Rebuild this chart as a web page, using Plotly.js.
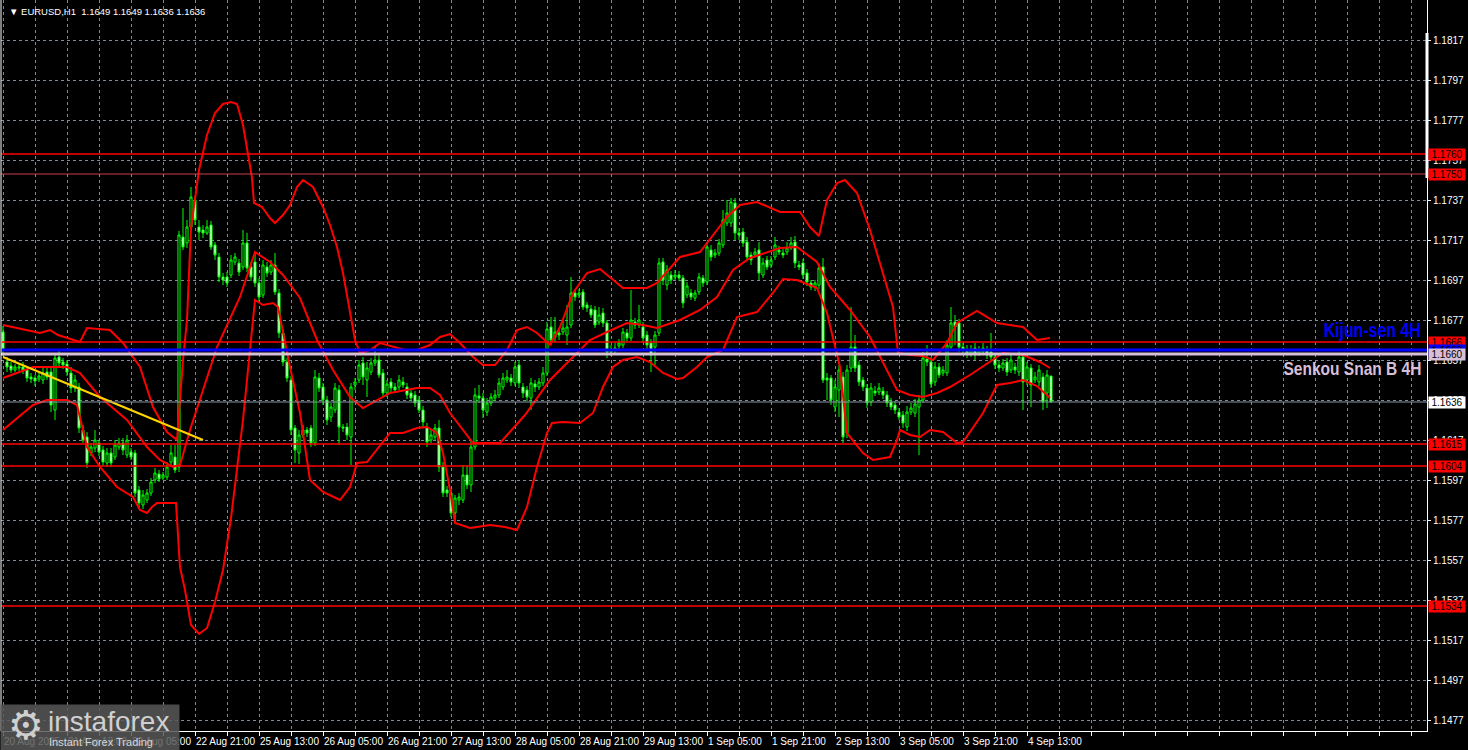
<!DOCTYPE html>
<html><head><meta charset="utf-8">
<script src="https://cdn.plot.ly/plotly-3.0.1.min.js"></script>
<style>html,body{margin:0;padding:0;background:#000;overflow:hidden}#chart{width:1468px;height:750px}</style>
</head><body><div id="chart"></div>
<script>
// ---------- DATA (EURUSD H1) ----------
const barOpen = [
1.16710,1.16560,1.16540,1.16520,1.16530,1.16535,1.16520,1.16485,1.16480,1.16475,
1.16470,1.16510,1.16510,1.16320,1.16585,1.16560,1.16550,1.16505,1.16430,1.16435,
1.16220,1.16185,1.16105,1.16130,1.16155,1.16120,1.16055,1.16105,1.16085,1.16135,
1.16155,1.16095,1.16110,1.16105,1.15920,1.15845,1.15870,1.15905,1.15970,1.16000,
1.15980,1.15985,1.16060,1.16085,1.16035,1.17185,1.17155,1.17235,1.17370,1.17235,
1.17220,1.17205,1.17245,1.17145,1.17085,1.16985,1.16985,1.16995,1.17060,1.17055,
1.17035,1.17155,1.17035,1.17060,1.16955,1.16895,1.17035,1.17010,1.17045,1.16905,
1.16705,1.16560,1.16470,1.16230,1.16105,1.16195,1.16220,1.16230,1.16155,1.16480,
1.16435,1.16370,1.16285,1.16320,1.16420,1.16235,1.16235,1.16185,1.16445,1.16470,
1.16555,1.16470,1.16510,1.16555,1.16570,1.16505,1.16405,1.16460,1.16435,1.16435,
1.16460,1.16435,1.16405,1.16395,1.16370,1.16320,1.16235,1.16170,1.16185,1.16230,
1.16035,1.15920,1.15905,1.15805,1.15870,1.15870,1.15995,1.15945,1.16135,1.16390,
1.16380,1.16310,1.16355,1.16380,1.16395,1.16435,1.16470,1.16480,1.16455,1.16545,
1.16435,1.16420,1.16380,1.16450,1.16435,1.16455,1.16505,1.16735,1.16685,1.16705,
1.16710,1.16695,1.16745,1.16905,1.16895,1.16910,1.16845,1.16825,1.16820,1.16760,
1.16805,1.16755,1.16610,1.16620,1.16640,1.16645,1.16705,1.16680,1.16760,1.16745,
1.16735,1.16695,1.16655,1.16635,1.16705,1.17060,1.16945,1.16995,1.16985,1.16995,
1.16980,1.16895,1.16905,1.16880,1.16910,1.16980,1.16960,1.17120,1.17095,1.17105,
1.17145,1.17255,1.17255,1.17355,1.17205,1.17210,1.17160,1.17095,1.17095,1.17120,
1.16995,1.17070,1.17045,1.17085,1.17120,1.17105,1.17110,1.17130,1.17160,1.17045,
1.17055,1.17005,1.16955,1.16935,1.16945,1.17035,1.16480,1.16480,1.16335,1.16420,
1.16485,1.16205,1.16530,1.16635,1.16545,1.16470,1.16430,1.16360,1.16415,1.16410,
1.16415,1.16395,1.16360,1.16345,1.16310,1.16295,1.16235,1.16310,1.16305,1.16335,
1.16370,1.16575,1.16560,1.16460,1.16535,1.16505,1.16505,1.16635,1.16760,1.16755,
1.16635,1.16620,1.16605,1.16630,1.16605,1.16610,1.16620,1.16610,1.16585,1.16545,
1.16530,1.16560,1.16520,1.16535,1.16510,1.16585,1.16470,1.16530,1.16470,1.16460,
1.16485,1.16405,1.16490];
const barHigh = [
1.16740,1.16585,1.16560,1.16550,1.16555,1.16560,1.16540,1.16505,1.16495,1.16510,
1.16530,1.16535,1.16530,1.16595,1.16620,1.16580,1.16570,1.16535,1.16495,1.16455,
1.16245,1.16210,1.16155,1.16220,1.16170,1.16140,1.16130,1.16130,1.16170,1.16180,
1.16180,1.16195,1.16130,1.16120,1.15940,1.15920,1.15925,1.15980,1.16030,1.16020,
1.16010,1.16060,1.16145,1.16145,1.17215,1.17330,1.17270,1.17435,1.17390,1.17270,
1.17245,1.17270,1.17265,1.17160,1.17105,1.17005,1.17010,1.17095,1.17105,1.17075,
1.17220,1.17205,1.17060,1.17105,1.16980,1.17070,1.17060,1.17070,1.17105,1.16925,
1.16725,1.16580,1.16490,1.16245,1.16220,1.16245,1.16235,1.16245,1.16520,1.16505,
1.16455,1.16390,1.16355,1.16455,1.16445,1.16250,1.16255,1.16455,1.16480,1.16570,
1.16585,1.16560,1.16580,1.16635,1.16595,1.16525,1.16470,1.16480,1.16455,1.16495,
1.16485,1.16455,1.16425,1.16415,1.16390,1.16340,1.16255,1.16220,1.16250,1.16270,
1.16060,1.15940,1.15925,1.15895,1.15905,1.16045,1.16045,1.16170,1.16430,1.16445,
1.16405,1.16380,1.16405,1.16420,1.16480,1.16505,1.16520,1.16500,1.16560,1.16570,
1.16455,1.16440,1.16480,1.16470,1.16480,1.16535,1.16760,1.16785,1.16785,1.16720,
1.16770,1.16845,1.16985,1.16925,1.16925,1.16925,1.16860,1.16845,1.16840,1.16835,
1.16830,1.16770,1.16645,1.16655,1.16675,1.16730,1.16725,1.16920,1.16780,1.16845,
1.16760,1.16715,1.16675,1.16715,1.17080,1.17080,1.17045,1.17015,1.17020,1.17015,
1.16995,1.16960,1.16925,1.16920,1.17005,1.16995,1.17160,1.17145,1.17125,1.17175,
1.17320,1.17370,1.17380,1.17380,1.17230,1.17230,1.17185,1.17110,1.17130,1.17160,
1.17080,1.17090,1.17090,1.17185,1.17140,1.17125,1.17160,1.17185,1.17190,1.17065,
1.17075,1.17025,1.16970,1.16970,1.17050,1.17080,1.16505,1.16495,1.16470,1.16545,
1.16510,1.16545,1.16835,1.16695,1.16565,1.16485,1.16450,1.16455,1.16440,1.16455,
1.16435,1.16415,1.16380,1.16365,1.16330,1.16315,1.16340,1.16355,1.16375,1.16395,
1.16610,1.16645,1.16585,1.16560,1.16555,1.16540,1.16670,1.16835,1.16795,1.16775,
1.16655,1.16645,1.16645,1.16655,1.16640,1.16655,1.16640,1.16705,1.16605,1.16565,
1.16575,1.16580,1.16595,1.16555,1.16620,1.16605,1.16560,1.16550,1.16510,1.16545,
1.16505,1.16520,1.16490];
const barLow = [
1.16590,1.16510,1.16505,1.16510,1.16515,1.16500,1.16460,1.16455,1.16440,1.16460,
1.16450,1.16470,1.16310,1.16270,1.16540,1.16525,1.16490,1.16405,1.16410,1.16205,
1.16155,1.16030,1.16090,1.16110,1.16090,1.16040,1.16035,1.16035,1.16070,1.16120,
1.16095,1.16080,1.16070,1.15885,1.15825,1.15825,1.15855,1.15890,1.15955,1.15960,
1.15970,1.15970,1.16045,1.16005,1.16010,1.17120,1.17130,1.17220,1.17245,1.17170,
1.17180,1.17195,1.17120,1.17070,1.16960,1.16945,1.16935,1.16980,1.17045,1.16990,
1.17020,1.17010,1.16965,1.16935,1.16865,1.16880,1.16985,1.16995,1.16895,1.16680,
1.16540,1.16460,1.16195,1.16055,1.16050,1.16180,1.16185,1.16135,1.16140,1.16410,
1.16345,1.16245,1.16260,1.16305,1.16145,1.16210,1.16170,1.16045,1.16420,1.16455,
1.16445,1.16385,1.16495,1.16540,1.16480,1.16385,1.16385,1.16410,1.16405,1.16420,
1.16430,1.16375,1.16365,1.16335,1.16305,1.16235,1.16135,1.16155,1.16170,1.16010,
1.15885,1.15885,1.15785,1.15760,1.15845,1.15855,1.15925,1.15910,1.16120,1.16355,
1.16280,1.16290,1.16340,1.16365,1.16380,1.16420,1.16455,1.16440,1.16440,1.16430,
1.16380,1.16365,1.16320,1.16410,1.16420,1.16440,1.16490,1.16645,1.16660,1.16670,
1.16695,1.16645,1.16730,1.16865,1.16880,1.16820,1.16810,1.16780,1.16730,1.16745,
1.16735,1.16580,1.16590,1.16600,1.16620,1.16630,1.16660,1.16665,1.16725,1.16730,
1.16660,1.16620,1.16510,1.16545,1.16690,1.16945,1.16920,1.16950,1.16970,1.16965,
1.16830,1.16880,1.16870,1.16865,1.16895,1.16935,1.16945,1.17065,1.17080,1.17090,
1.17130,1.17240,1.17235,1.17170,1.17170,1.17135,1.17065,1.17045,1.17080,1.16970,
1.16980,1.17020,1.17030,1.17070,1.17095,1.17080,1.17095,1.17120,1.17030,1.17020,
1.16975,1.16940,1.16920,1.16915,1.16925,1.16455,1.16370,1.16345,1.16310,1.16285,
1.16155,1.16180,1.16510,1.16510,1.16440,1.16415,1.16330,1.16340,1.16390,1.16395,
1.16375,1.16335,1.16320,1.16300,1.16270,1.16230,1.16215,1.16295,1.16285,1.16095,
1.16355,1.16540,1.16430,1.16440,1.16480,1.16490,1.16490,1.16620,1.16645,1.16610,
1.16595,1.16580,1.16585,1.16570,1.16590,1.16595,1.16575,1.16570,1.16525,1.16510,
1.16515,1.16490,1.16505,1.16500,1.16490,1.16320,1.16445,1.16335,1.16455,1.16440,
1.16320,1.16330,1.16360];
const barClose = [
1.16620,1.16535,1.16520,1.16535,1.16535,1.16520,1.16480,1.16475,1.16465,1.16490,
1.16505,1.16485,1.16345,1.16580,1.16555,1.16545,1.16510,1.16430,1.16470,1.16230,
1.16170,1.16055,1.16135,1.16170,1.16110,1.16060,1.16105,1.16055,1.16145,1.16155,
1.16120,1.16170,1.16085,1.15905,1.15855,1.15895,1.15905,1.15960,1.16005,1.15975,
1.15995,1.16035,1.16105,1.16020,1.17195,1.17135,1.17235,1.17385,1.17270,1.17210,
1.17205,1.17235,1.17135,1.17095,1.16985,1.16970,1.16955,1.17070,1.17085,1.17010,
1.17155,1.17030,1.16985,1.16955,1.16885,1.17045,1.17005,1.17045,1.16910,1.16705,
1.16560,1.16480,1.16220,1.16120,1.16195,1.16220,1.16205,1.16155,1.16485,1.16430,
1.16370,1.16270,1.16335,1.16430,1.16235,1.16230,1.16195,1.16435,1.16460,1.16545,
1.16485,1.16530,1.16555,1.16570,1.16495,1.16405,1.16450,1.16430,1.16420,1.16470,
1.16445,1.16395,1.16380,1.16355,1.16320,1.16260,1.16160,1.16195,1.16230,1.16035,
1.15905,1.15905,1.15805,1.15880,1.15885,1.15995,1.15945,1.16135,1.16395,1.16380,
1.16320,1.16355,1.16385,1.16395,1.16455,1.16480,1.16485,1.16460,1.16535,1.16455,
1.16405,1.16385,1.16455,1.16435,1.16460,1.16505,1.16725,1.16670,1.16710,1.16695,
1.16730,1.16735,1.16905,1.16885,1.16905,1.16835,1.16830,1.16795,1.16745,1.16795,
1.16755,1.16610,1.16620,1.16630,1.16655,1.16710,1.16680,1.16770,1.16745,1.16770,
1.16680,1.16645,1.16595,1.16695,1.17055,1.16970,1.17020,1.16970,1.16995,1.16980,
1.16855,1.16940,1.16885,1.16905,1.16985,1.16955,1.17135,1.17085,1.17105,1.17155,
1.17270,1.17305,1.17360,1.17205,1.17195,1.17155,1.17085,1.17070,1.17110,1.17005,
1.17055,1.17035,1.17070,1.17145,1.17110,1.17095,1.17130,1.17155,1.17055,1.17035,
1.16995,1.16960,1.16935,1.16955,1.17030,1.16470,1.16470,1.16370,1.16435,1.16520,
1.16185,1.16520,1.16635,1.16530,1.16460,1.16435,1.16355,1.16430,1.16405,1.16430,
1.16395,1.16355,1.16335,1.16320,1.16285,1.16255,1.16310,1.16330,1.16350,1.16370,
1.16580,1.16560,1.16450,1.16535,1.16495,1.16520,1.16645,1.16755,1.16735,1.16635,
1.16620,1.16605,1.16620,1.16595,1.16620,1.16630,1.16595,1.16585,1.16545,1.16530,
1.16555,1.16510,1.16570,1.16520,1.16585,1.16460,1.16535,1.16445,1.16485,1.16520,
1.16360,1.16495,1.16360];

// Bollinger band lines: bar index of each reading and value
const bbUpperBar = [0,9.25,11.75,13.75,19.25,21,26.75,30,34.25,37.5,41,43.5,45,46,47,49,51,53,55,57,58.5,60,61.5,62.25,62.75,64.75,66.75,68,70,71.75,73.5,75,77.5,80,81.75,83.5,85,86.75,88,89.25,91.75,94.25,96.75,100.5,103.5,106.75,109.25,111.75,114.25,117.5,120,123,126,128.5,131,133.5,136.75,139.25,142.5,146,149.25,152.5,155,161,163.5,169.25,174.25,178.5,181,184.25,188.5,194.25,199.25,201.75,204,206,208.5,210.5,213.5,216.75,220,222.5,223.75,226.75,230,232.5,236,238.5,243.5,248.5,255,258.5,261.75];
const bbUpperVal = [1.16745,1.16705,1.16720,1.16695,1.16660,1.16730,1.16720,1.16655,1.16535,1.16335,1.16210,1.16170,1.16570,1.16770,1.17230,1.17520,1.17695,1.17805,1.17850,1.17860,1.17850,1.17745,1.17570,1.17480,1.17355,1.17335,1.17280,1.17255,1.17295,1.17345,1.17435,1.17470,1.17435,1.17335,1.17245,1.17135,1.17005,1.16805,1.16670,1.16605,1.16620,1.16655,1.16640,1.16620,1.16620,1.16645,1.16685,1.16700,1.16655,1.16585,1.16545,1.16545,1.16620,1.16720,1.16735,1.16705,1.16645,1.16735,1.16905,1.17005,1.17025,1.16970,1.16930,1.16930,1.16955,1.17085,1.17110,1.17220,1.17285,1.17345,1.17360,1.17310,1.17310,1.17235,1.17190,1.17370,1.17455,1.17470,1.17405,1.17220,1.17005,1.16835,1.16605,1.16595,1.16590,1.16570,1.16655,1.16755,1.16815,1.16755,1.16735,1.16670,1.16680];
const bbMiddleBar = [0,7.5,16,19.25,24.25,31,36,39.25,42.5,44.25,46.75,49.25,53.5,59.25,63,66.75,70,74.25,78.5,82.5,86.75,90,93.5,96.75,103.5,106.75,109.25,111.75,117.5,124.25,130.5,136.75,142.5,146.75,151,156,160,163.5,169.25,174.25,178.5,182.5,186.75,194.25,198.5,203.5,206.75,211.75,216.75,220,223.5,226.75,230,233.5,236.75,241.75,246.75,250,255,259.25,261.75];
const bbMiddleVal = [1.16480,1.16535,1.16535,1.16505,1.16385,1.16270,1.16135,1.16070,1.16035,1.16045,1.16220,1.16370,1.16635,1.16885,1.17110,1.17060,1.16995,1.16880,1.16670,1.16520,1.16385,1.16330,1.16370,1.16405,1.16430,1.16430,1.16395,1.16305,1.16155,1.16155,1.16295,1.16470,1.16585,1.16670,1.16710,1.16755,1.16745,1.16730,1.16770,1.16820,1.16885,1.17020,1.17080,1.17130,1.17135,1.17060,1.16935,1.16820,1.16685,1.16555,1.16420,1.16395,1.16385,1.16405,1.16435,1.16495,1.16560,1.16605,1.16595,1.16560,1.16530];
const bbLowerBar = [0,7.5,11,16,18.5,21,24.25,28.5,32.5,34.25,36,37.25,38.5,43.25,44.25,45.5,47,49,51,53,55,57,60,61.75,63,65,67.5,68.75,71.75,74.25,76.75,80,84.25,86.75,88.5,91,96.75,100,103.5,106,108.5,110,111.75,113,116.75,121.75,125.5,128.5,131,133.5,136,137.25,140,144.25,147.5,150,152.5,155,158.5,161.75,165,168.5,170,173.5,176,180,181.75,183.5,188.5,192.5,195,198.5,203.5,204.75,206,209.25,211,215,217.5,221.75,223.5,224.25,226.75,229.25,231.75,235,238.5,240,245,248.5,251.75,255,258.5,261.75];
const bbLowerVal = [1.16220,1.16345,1.16370,1.16370,1.16345,1.16135,1.16035,1.15935,1.15885,1.15820,1.15805,1.15835,1.15855,1.15855,1.15535,1.15420,1.15245,1.15200,1.15230,1.15360,1.15520,1.15780,1.16270,1.16620,1.16870,1.16845,1.16855,1.16835,1.16535,1.16305,1.15970,1.15910,1.15870,1.15935,1.16055,1.16060,1.16205,1.16205,1.16230,1.16235,1.16205,1.16105,1.15920,1.15755,1.15730,1.15745,1.15735,1.15720,1.15835,1.16035,1.16205,1.16255,1.16260,1.16255,1.16305,1.16435,1.16535,1.16570,1.16585,1.16560,1.16505,1.16475,1.16480,1.16535,1.16585,1.16620,1.16705,1.16785,1.16810,1.16905,1.16975,1.16970,1.16930,1.16870,1.16805,1.16535,1.16205,1.16105,1.16070,1.16085,1.16170,1.16220,1.16195,1.16185,1.16220,1.16210,1.16155,1.16160,1.16305,1.16445,1.16455,1.16470,1.16440,1.16380];

// Trend line (bar index, price)
const trendBar = [0, 50];
const trendVal = [1.16585, 1.16170];

// Horizontal levels
const supportResistance = [1.1760, 1.1750, 1.1666, 1.1615, 1.1604, 1.1534];
const kijunSen4H = 1.1662;
const senkouSpanB4H = 1.1660;
const bidPrice = 1.1636;

// Axis ticks
const xTickBars = [0,16,32,48,64,80,96,112,128,144,160,176,192,208,224,240,256];
const xTickLabels = ["20 Aug 2025","21 Aug 13:00","22 Aug 05:00","22 Aug 21:00","25 Aug 13:00","26 Aug 05:00","26 Aug 21:00","27 Aug 13:00","28 Aug 05:00","28 Aug 21:00","29 Aug 13:00","1 Sep 05:00","1 Sep 21:00","2 Sep 13:00","3 Sep 05:00","3 Sep 21:00","4 Sep 13:00"];
const yTickValues = [1.1477,1.1497,1.1517,1.1537,1.1557,1.1577,1.1597,1.1617,1.1637,1.1657,1.1677,1.1697,1.1717,1.1737,1.1757,1.1777,1.1797,1.1817];
const chartTitle = "\u25BC EURUSD,H1\u00a0\u00a01.1649 1.1649 1.1636 1.1636";
const kijunCaption = "Kijun-sen 4H";
const senkouCaption = "Senkou Snan B 4H";

// ---------- BUILD ----------
const barIndex = barOpen.map((_, i) => i);
const gridBars = [];
for (let b = 0; b <= 352; b += 8) gridBars.push(b);

const FONT = "'Liberation Sans', Arial, sans-serif";

const traces = [
  {
    type: 'candlestick', x: barIndex, open: barOpen, high: barHigh, low: barLow, close: barClose,
    increasing: {line: {color: '#00ff00', width: 1}, fillcolor: '#000000'},
    decreasing: {line: {color: '#00ff00', width: 1}, fillcolor: '#ffffff'},
    whiskerwidth: 0, hoverinfo: 'skip', showlegend: false
  },
  {type: 'scatter', mode: 'lines', x: bbUpperBar, y: bbUpperVal, line: {color: '#ff0000', width: 2}, hoverinfo: 'skip', showlegend: false},
  {type: 'scatter', mode: 'lines', x: bbMiddleBar, y: bbMiddleVal, line: {color: '#ff0000', width: 2}, hoverinfo: 'skip', showlegend: false},
  {type: 'scatter', mode: 'lines', x: bbLowerBar, y: bbLowerVal, line: {color: '#ff0000', width: 2}, hoverinfo: 'skip', showlegend: false},
  {type: 'scatter', mode: 'lines', x: trendBar, y: trendVal, line: {color: '#ffd400', width: 2}, hoverinfo: 'skip', showlegend: false}
];

function hLine(v, color, width) {
  return {type: 'line', xref: 'paper', x0: 0, x1: 1, yref: 'y', y0: v, y1: v, line: {color: color, width: width}, layer: 'above'};
}
const shapes = [];
supportResistance.forEach(v => shapes.push(hLine(v, v === 1.1750 ? '#c8404a' : '#ff0000', v === 1.1750 ? 1 : 1.5)));
shapes.push(hLine(bidPrice, '#8a96a6', 1));
shapes.push(hLine(kijunSen4H, '#0000ff', 3));
shapes.push(hLine(senkouSpanB4H, '#d8bfd8', 3));
// chart frame (left edge) and right scroll marker
shapes.push({type: 'line', xref: 'paper', yref: 'paper', x0: 0, x1: 0, y0: 0, y1: 1, line: {color: '#ffffff', width: 1}, layer: 'above'});
shapes.push({type: 'line', xref: 'paper', yref: 'paper', x0: 1, x1: 1, y0: 1 - 33/731, y1: 1 - 178/731, line: {color: '#ffffff', width: 3}, layer: 'above'});

const annotations = [];
// x-axis labels
xTickBars.forEach((b, k) => annotations.push({xref: 'x', yref: 'paper', x: b, y: 0, xanchor: 'left', yanchor: 'top',
  yshift: -3, xshift: -1, text: xTickLabels[k], showarrow: false, font: {family: FONT, size: 10, color: '#ffffff'}}));
// price labels on the right axis
function priceTag(v, bg, fg) {
  annotations.push({xref: 'paper', yref: 'y', x: 1, y: v, xanchor: 'left', yanchor: 'middle', xshift: 1,
    text: v.toFixed(4), showarrow: false, bgcolor: bg, borderpad: 0, width: 36, height: 11,
    font: {family: FONT, size: 10, color: fg}});
}
supportResistance.forEach(v => priceTag(v, '#ff0000', '#000000'));
priceTag(kijunSen4H, '#0000ff', '#000000');
priceTag(senkouSpanB4H, '#d8bfd8', '#000000');
priceTag(bidPrice, '#ffffff', '#000000');
// line captions (centred, later condensed to the reference width)
annotations.push({xref: 'paper', yref: 'y', x: 1, y: 1.16720, xanchor: 'center', yanchor: 'middle', xshift: -55,
  text: kijunCaption, showarrow: false, font: {family: FONT, size: 20, weight: 'bold', color: '#0000ff'}});
annotations.push({xref: 'paper', yref: 'y', x: 1, y: 1.16530, xanchor: 'center', yanchor: 'middle', xshift: -75,
  text: senkouCaption, showarrow: false, font: {family: FONT, size: 19, weight: 'bold', color: '#d8bfd8'}});
// title
annotations.push({xref: 'paper', yref: 'paper', x: 0, y: 1, xanchor: 'left', yanchor: 'top', xshift: 6, yshift: -4,
  text: chartTitle, showarrow: false, font: {family: FONT, size: 9.5, color: '#ffffff'}});
// watermark
annotations.push({xref: 'paper', yref: 'paper', x: 0, y: 0, xanchor: 'left', yanchor: 'middle', xshift: -1, yshift: 3.5,
  text: '\u00a0', showarrow: false, bgcolor: 'rgba(88,88,88,0.85)', borderpad: 0, width: 178, height: 45});
annotations.push({xref: 'paper', yref: 'paper', x: 0, y: 0, xanchor: 'center', yanchor: 'middle', xshift: 25, yshift: 6,
  text: '\u2699', showarrow: false, font: {family: "'DejaVu Sans', sans-serif", size: 40, color: '#cfcfcf'}});
annotations.push({xref: 'paper', yref: 'paper', x: 0, y: 0, xanchor: 'left', yanchor: 'middle', xshift: 45, yshift: 10,
  text: 'instaforex', showarrow: false, font: {family: FONT, size: 28, color: '#d0d0d0'}});
annotations.push({xref: 'paper', yref: 'paper', x: 0, y: 0, xanchor: 'left', yanchor: 'middle', xshift: 46, yshift: -11,
  text: 'Instant Forex Trading', showarrow: false, font: {family: FONT, size: 11, color: '#d8d8d8'}});

const layout = {
  width: 1468, height: 750,
  paper_bgcolor: '#000000', plot_bgcolor: '#000000',
  margin: {l: 1, r: 41, t: 0, b: 19},
  showlegend: false, boxgap: 0.25,
  xaxis: {
    range: [-0.5, 356], rangeslider: {visible: false},
    tickmode: 'array', tickvals: gridBars, showticklabels: false,
    ticks: 'outside', ticklen: 4, tickcolor: '#ffffff',
    showgrid: true, gridcolor: '#7d8b9a', griddash: '3px,3px', gridwidth: 1,
    showline: true, linecolor: '#ffffff', linewidth: 1, zeroline: false, fixedrange: true
  },
  yaxis: {
    side: 'right', range: [1.14715, 1.1837],
    tickmode: 'array', tickvals: yTickValues, ticktext: yTickValues.map(v => v.toFixed(4)),
    tickfont: {family: FONT, size: 10, color: '#ffffff'},
    ticks: 'outside', ticklen: 3, tickcolor: '#ffffff',
    showgrid: true, gridcolor: '#7d8b9a', griddash: '3px,3px', gridwidth: 1,
    showline: true, linecolor: '#ffffff', linewidth: 1, zeroline: false, fixedrange: true
  },
  shapes: shapes,
  annotations: annotations
};

Plotly.newPlot('chart', traces, layout, {staticPlot: true, displayModeBar: false}).then(() => {
  // condense the two bold captions horizontally, like the narrow heavy font of the original
  const targetWidth = {};
  targetWidth[kijunCaption] = 97;
  targetWidth[senkouCaption] = 138;
  document.querySelectorAll('#chart text.annotation-text').forEach(t => {
    const w = targetWidth[t.textContent];
    if (w) {
      t.setAttribute('textLength', w);
      t.setAttribute('lengthAdjust', 'spacingAndGlyphs');
    }
  });
});
</script>
</body></html>
